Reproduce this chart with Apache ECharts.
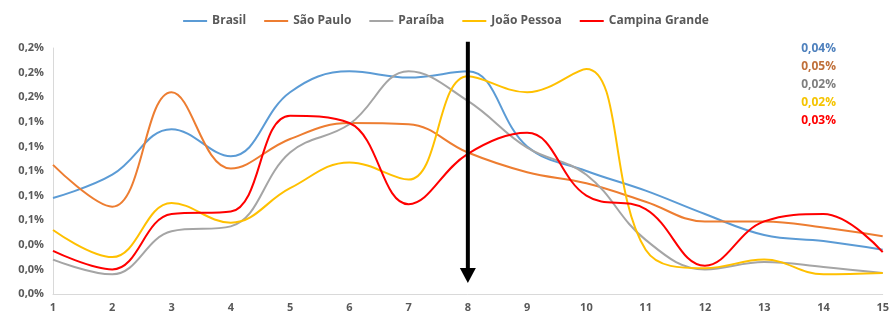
<!DOCTYPE html>
<html>
<head>
<meta charset="utf-8">
<script src="https://cdn.jsdelivr.net/npm/echarts@6/dist/echarts.min.js"></script>
<style>
  html, body { margin: 0; padding: 0; background: #fff; }
  #chart { width: 892px; height: 315px; }
</style>
</head>
<body>
<div id="chart"></div>
<script>
// categories (x axis)
var categories = ["1", "2", "3", "4", "5", "6", "7", "8", "9", "10", "11", "12", "13", "14", "15"];

// values in percent
var brasil = [0.078, 0.097, 0.134, 0.112, 0.164, 0.181, 0.176, 0.181, 0.120, 0.100, 0.084, 0.065, 0.048, 0.043, 0.036];
var saoPaulo = [0.105, 0.071, 0.164, 0.102, 0.126, 0.139, 0.138, 0.115, 0.099, 0.090, 0.075, 0.059, 0.059, 0.054, 0.047];
var paraiba = [0.028, 0.016, 0.051, 0.055, 0.115, 0.138, 0.181, 0.157, 0.119, 0.097, 0.044, 0.020, 0.026, 0.022, 0.017];
var joaoPessoa = [0.052, 0.030, 0.074, 0.058, 0.086, 0.107, 0.093, 0.177, 0.164, 0.183, 0.036, 0.021, 0.028, 0.016, 0.017];
var campinaGrande = [0.035, 0.020, 0.065, 0.067, 0.145, 0.139, 0.073, 0.114, 0.131, 0.080, 0.069, 0.023, 0.059, 0.065, 0.034];

var seriesNames = ["Brasil", "São Paulo", "Paraíba", "João Pessoa", "Campina Grande"];
var colors = ["#5B9BD5", "#ED7D31", "#A5A5A5", "#FFC000", "#FF0000"];
var sideTextColors = ["#4F81BD", "#C0703A", "#7F7F7F", "#F5C400", "#FF0000"];
var sideLabels = ["0,04%", "0,05%", "0,02%", "0,02%", "0,03%"];

// arrow at category 8
var arrowCat = "8";
var arrowFrom = 0.205;
var arrowTo = 0.009;

var allData = [brasil, saoPaulo, paraiba, joaoPessoa, campinaGrande];

var myChart = echarts.init(document.getElementById("chart"), null, { renderer: "canvas" });

var series = seriesNames.map(function (name, i) {
  return {
    name: name,
    type: "line",
    smooth: 0.4,
    showSymbol: false,
    symbol: "none",
    color: colors[i],
    lineStyle: { width: 2, color: colors[i] },
    data: allData[i],
    z: 2 + i
  };
});

var graphics = sideLabels.map(function (t, i) {
  return {
    type: "text",
    right: 56,
    top: 43 + i * 18,
    style: {
      text: t,
      fill: sideTextColors[i],
      font: "bold 12px 'Open Sans', sans-serif",
      textAlign: "right"
    }
  };
});

var option = {
  animation: false,
  backgroundColor: "#fff",
  grid: {
    top: 48,
    left: 53,
    right: 8,
    bottom: 21,
    containLabel: false
  },
  legend: {
    top: 10,
    left: "center",
    data: seriesNames,
    icon: "rect",
    itemWidth: 24,
    itemHeight: 2,
    itemGap: 18,
    textStyle: {
      color: "#595959",
      fontSize: 12,
      fontWeight: "bold",
      fontFamily: "'Open Sans', sans-serif"
    }
  },
  xAxis: [
    {
      type: "category",
      boundaryGap: false,
      data: categories,
      axisTick: { show: false },
      axisLine: { show: true, lineStyle: { color: "#D9D9D9", width: 1 } },
      axisLabel: {
        color: "#595959",
        fontSize: 11,
        fontWeight: "bold",
        fontFamily: "'Open Sans', sans-serif",
        margin: 8
      }
    }
  ],
  yAxis: [
    {
      type: "value",
      min: 0,
      max: 0.2,
      interval: 0.02,
      splitLine: { show: false },
      axisTick: { show: false },
      axisLine: { show: true, lineStyle: { color: "#D9D9D9", width: 1 } },
      axisLabel: {
        color: "#595959",
        fontSize: 11,
        fontWeight: "bold",
        fontFamily: "'Open Sans', sans-serif",
        margin: 9,
        formatter: function (value) {
          return value.toFixed(1).replace(".", ",") + "%";
        }
      }
    }
  ],
  graphic: graphics,
  series: series
};

myChart.setOption(option);

// arrow placed through the chart's own scales
var p0 = myChart.convertToPixel({ gridIndex: 0 }, [arrowCat, arrowFrom]);
var p1 = myChart.convertToPixel({ gridIndex: 0 }, [arrowCat, arrowTo]);
var headH = 15;
var headW = 8;
myChart.setOption({
  graphic: graphics.concat([
    {
      type: "line",
      z: 100,
      shape: { x1: p0[0], y1: p0[1], x2: p1[0], y2: p1[1] - headH + 2 },
      style: { stroke: "#000", lineWidth: 4 }
    },
    {
      type: "polygon",
      z: 100,
      shape: { points: [[p1[0] - headW, p1[1] - headH], [p1[0] + headW, p1[1] - headH], [p1[0], p1[1]]] },
      style: { fill: "#000" }
    }
  ])
});
</script>
</body>
</html>
